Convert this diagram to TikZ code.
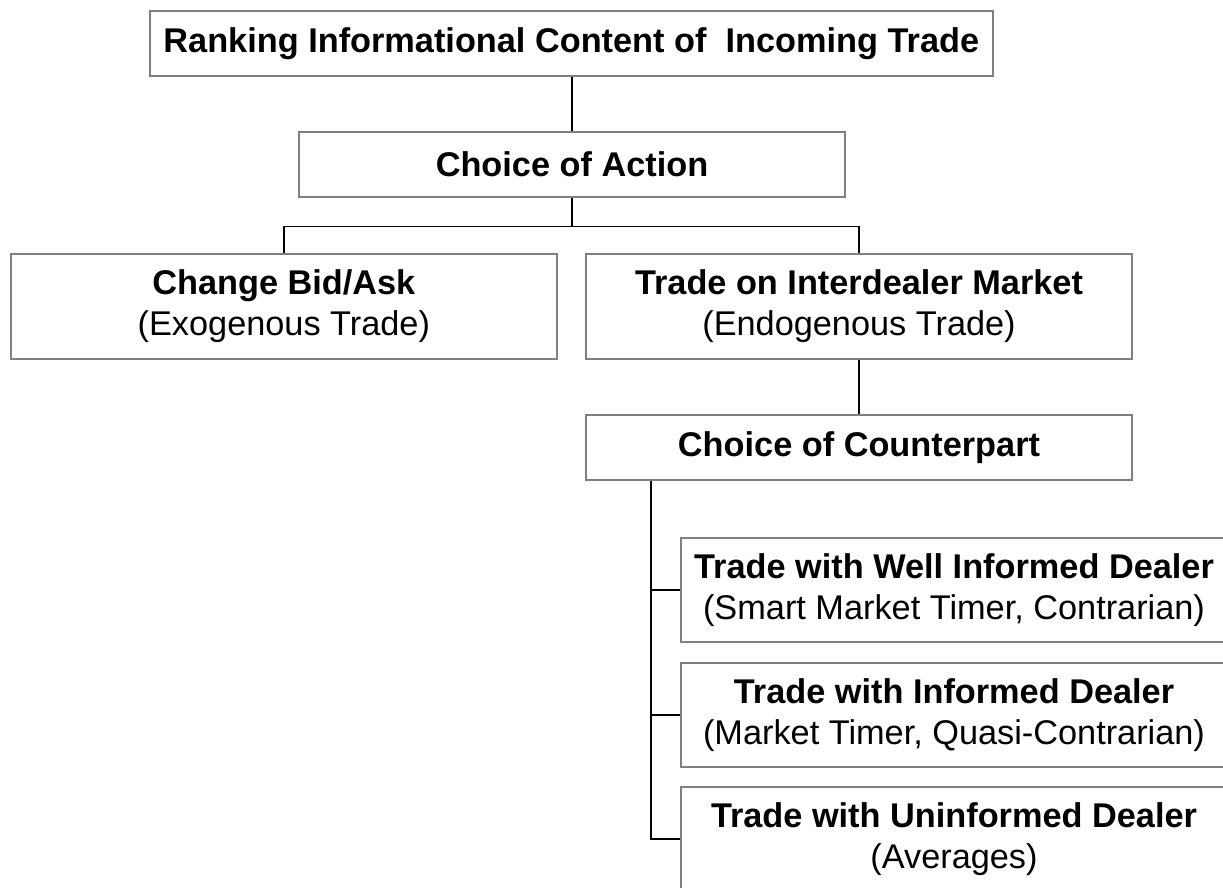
\documentclass[tikz,border=0pt]{standalone}
\usepackage{fontspec}
\setmainfont{Liberation Sans}
\definecolor{boxgray}{RGB}{128,128,128}
\begin{document}
\begin{tikzpicture}[x=1pt,y=-1pt,
  box/.style={draw=boxgray, line width=2pt, fill=white, inner sep=0pt,
    align=center, minimum width=546pt, font=\fontsize{34.3}{41}\selectfont},
  tallbox/.style={box, minimum height=104pt},
  flatbox/.style={box, minimum height=65pt},
  link/.style={draw=black, line width=1.7pt}]
  \path[use as bounding box, clip] (0,0) rectangle (1223,888);

  % decision levels
  \node[box, minimum width=843.5pt, minimum height=64.5pt] (rank) at (571.25,43.75)
    {\textbf{Ranking Informational Content of \ Incoming Trade}};
  \node[flatbox] (action) at (572,164.5) {\textbf{Choice of Action}};
  \node[tallbox, minimum width=546.3pt, minimum height=105pt] (bidask) at (283.85,306.5)
    {\textbf{Change Bid/Ask}\\(Exogenous Trade)};
  \node[tallbox, minimum height=105pt] (inter) at (859,306.5)
    {\textbf{Trade on Interdealer Market}\\(Endogenous Trade)};
  \node[flatbox] (counter) at (859,447.5) {\textbf{Choice of Counterpart}};

  % counterpart options
  \node[tallbox] (well) at (954,590)
    {\textbf{Trade with Well Informed Dealer}\\(Smart Market Timer, Contrarian)};
  \node[tallbox] (informed) at (954,715)
    {\textbf{Trade with Informed Dealer}\\(Market Timer, Quasi-Contrarian)};
  \node[tallbox] (uninf) at (954,839)
    {\textbf{Trade with Uninformed Dealer}\\(Averages)};

  % connectors
  \draw[link] (rank.south -| action.north) -- (action.north);
  \draw[link] (action.south) -- ++(0,28.5) coordinate (split);
  \draw[link] (bidask.north) |- (split) -| (inter.north);
  \draw[link] (inter.south) -- (counter.north);
  \draw[link] (counter.south west) ++(66,0) coordinate (trunk) |- (uninf.west);
  \draw[link] (trunk |- well.west) -- (well.west);
  \draw[link] (trunk |- informed.west) -- (informed.west);
\end{tikzpicture}
\end{document}
